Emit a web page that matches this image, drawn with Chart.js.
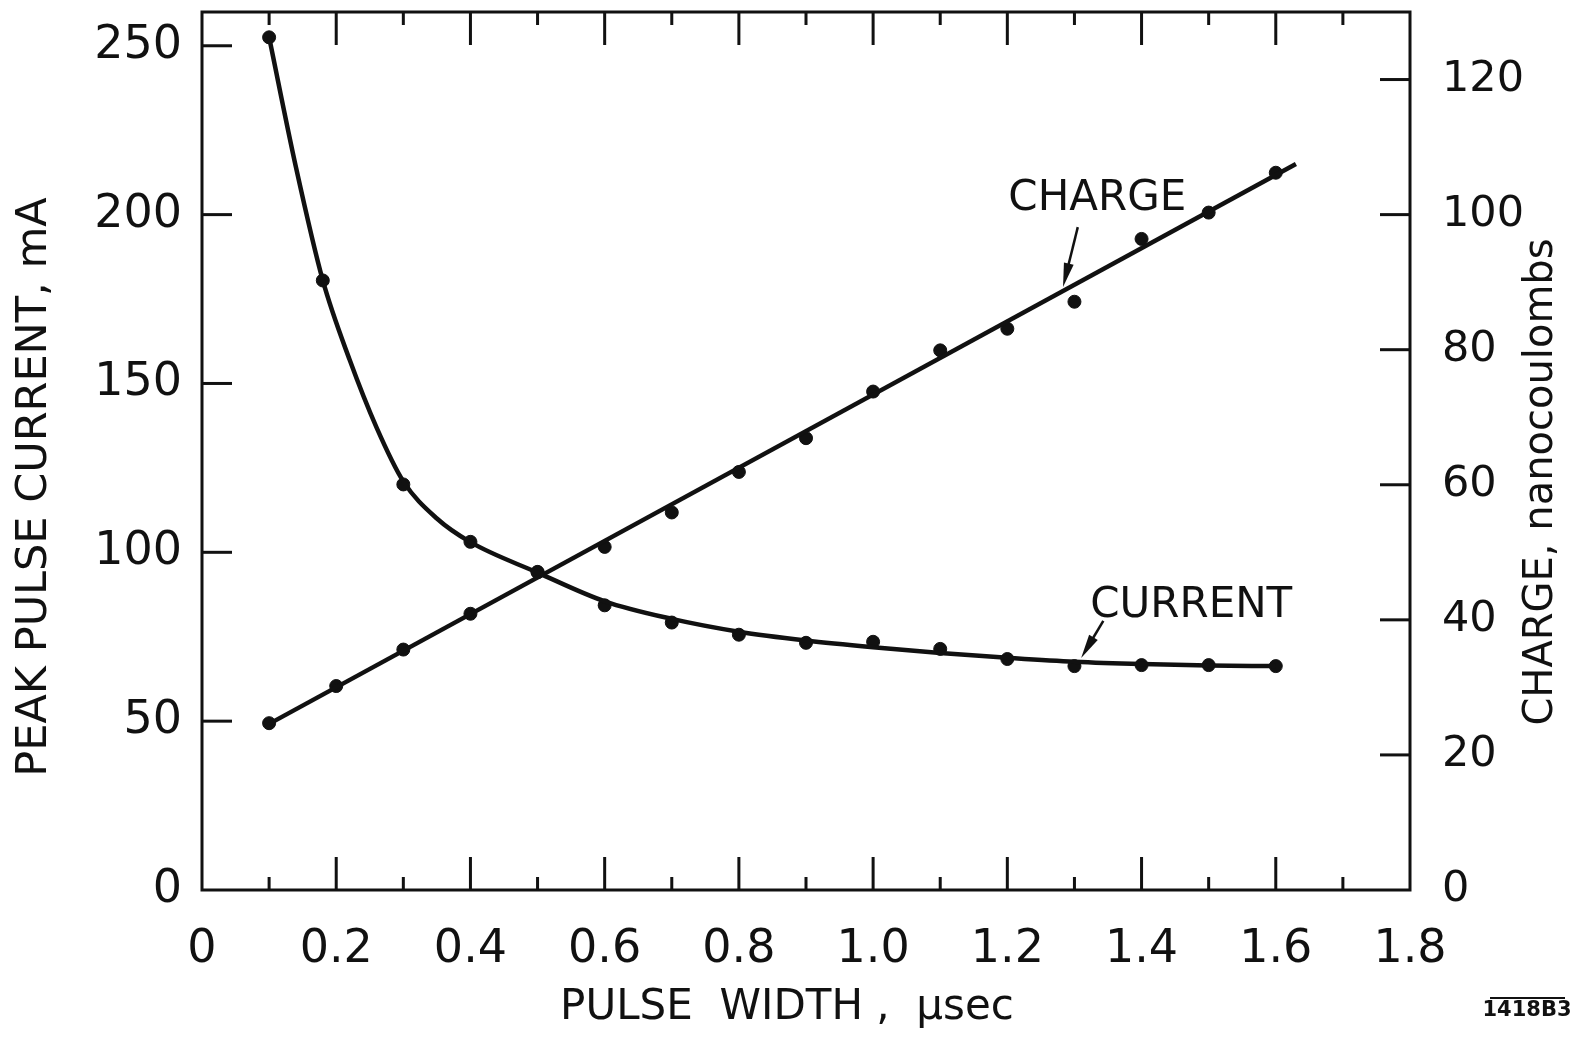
<!DOCTYPE html>
<html lang="en">
<head>
    <meta charset="UTF-8">
    <title>Peak pulse current and charge vs pulse width</title>
    <script src="https://cdn.jsdelivr.net/npm/chart.js"></script>
    <style>
        html, body { margin: 0; padding: 0; background: #fff; }
        canvas { display: block; }
    </style>
</head>
<body>
    <canvas id="pulseChart" width="1583" height="1037"></canvas>

    <script>
        let currentWidth = [0.1, 0.18, 0.3, 0.4, 0.5, 0.6, 0.7, 0.8, 0.9, 1.0, 1.1, 1.2, 1.3, 1.4, 1.5, 1.6];
        let currentValues = [252.5, 180.5, 120.1, 103.1, 94.1, 84.3, 79.2, 75.6, 73.2, 73.5, 71.4, 68.4, 66.3, 66.6, 66.6, 66.3];

        let chargeWidth = [0.1, 0.2, 0.3, 0.4, 0.5, 0.6, 0.7, 0.8, 0.9, 1.0, 1.1, 1.2, 1.3, 1.4, 1.5, 1.6];
        let chargeValues = [24.7, 30.2, 35.6, 40.9, 47.1, 50.8, 55.9, 61.9, 66.9, 73.8, 79.9, 83.1, 87.1, 96.4, 100.3, 106.2];

        // hand drawn fit curves
        let currentFitWidth = [0.1, 0.14, 0.18, 0.22, 0.26, 0.3, 0.35, 0.4, 0.5, 0.6, 0.7, 0.8, 0.9, 1.0, 1.1, 1.2, 1.3, 1.4, 1.5, 1.6];
        let currentFitValues = [252.5, 214, 180.5, 157, 137, 121, 110, 103, 94, 85.5, 80.3, 76.5, 73.9, 71.9, 70.2, 68.8, 67.6, 66.9, 66.5, 66.3];
        let chargeFitWidth = [0.1, 1.63];
        let chargeFitValues = [24.6, 107.5];

        // tick labels
        let xTicks = [0, 0.2, 0.4, 0.6, 0.8, 1.0, 1.2, 1.4, 1.6, 1.8];
        let xTickLabels = ["0", "0.2", "0.4", "0.6", "0.8", "1.0", "1.2", "1.4", "1.6", "1.8"];
        let currentTicks = [0, 50, 100, 150, 200, 250];
        let chargeTicks = [0, 20, 40, 60, 80, 100, 120];

        const INK = "#111";
        const FONT = "'DejaVu Sans', sans-serif";

        function toPoints(xs, ys) {
            return xs.map((x, i) => ({ x: x, y: ys[i] }));
        }

        // frame, inward ticks, titles and labels
        const paperPlugin = {
            id: "paper",
            beforeDraw(chart) {
                const ctx = chart.ctx;
                ctx.save();
                ctx.fillStyle = "#fff";
                ctx.fillRect(0, 0, chart.width, chart.height);
                ctx.restore();
            },
            afterDraw(chart) {
                const ctx = chart.ctx;
                const a = chart.chartArea;
                const sx = chart.scales.x, sy = chart.scales.y, sy2 = chart.scales.y2;
                ctx.save();
                ctx.strokeStyle = INK;
                ctx.fillStyle = INK;

                // frame
                ctx.lineWidth = 3;
                ctx.strokeRect(a.left, a.top, a.right - a.left, a.bottom - a.top);

                // x ticks, top and bottom, every 0.1
                for (let i = 1; i < 18; i++) {
                    const px = sx.getPixelForValue(i / 10);
                    const len = i % 2 === 0 ? 33 : 13;
                    ctx.beginPath();
                    ctx.moveTo(px, a.bottom);
                    ctx.lineTo(px, a.bottom - len);
                    ctx.moveTo(px, a.top);
                    ctx.lineTo(px, a.top + len);
                    ctx.stroke();
                }
                // left ticks
                currentTicks.forEach(v => {
                    if (v === 0) return;
                    const py = sy.getPixelForValue(v);
                    ctx.beginPath();
                    ctx.moveTo(a.left, py);
                    ctx.lineTo(a.left + 30, py);
                    ctx.stroke();
                });
                // right ticks
                chargeTicks.forEach(v => {
                    if (v === 0) return;
                    const py = sy2.getPixelForValue(v);
                    ctx.beginPath();
                    ctx.moveTo(a.right, py);
                    ctx.lineTo(a.right - 30, py);
                    ctx.stroke();
                });

                // axis titles
                ctx.textAlign = "center";
                ctx.textBaseline = "middle";
                ctx.font = "43px " + FONT;
                ctx.save();
                ctx.translate(35, 487);
                ctx.rotate(-Math.PI / 2);
                ctx.fillText("PEAK PULSE CURRENT, mA", 0, 0);
                ctx.restore();

                ctx.font = "40px " + FONT;
                ctx.save();
                ctx.translate(1542, 482);
                ctx.rotate(-Math.PI / 2);
                ctx.fillText("CHARGE, nanocoulombs", 0, 0);
                ctx.restore();

                ctx.font = "42px " + FONT;
                ctx.fillText("PULSE  WIDTH ,  \u00b5sec", 787, 1008);

                // curve labels with arrows, placed in data units
                ctx.font = "42px " + FONT;
                ctx.fillText("CHARGE", sx.getPixelForValue(1.334), sy.getPixelForValue(204.6));
                drawArrow(ctx, sx.getPixelForValue(1.305), sy.getPixelForValue(196.3),
                          sx.getPixelForValue(1.283), sy.getPixelForValue(178.6));
                ctx.fillText("CURRENT", sx.getPixelForValue(1.474), sy.getPixelForValue(84.1));
                drawArrow(ctx, sx.getPixelForValue(1.343), sy.getPixelForValue(79.7),
                          sx.getPixelForValue(1.310), sy.getPixelForValue(68.7));

                // drawing number
                ctx.font = "bold 21px " + FONT;
                ctx.fillText("1418B3", 1527, 1011);
                ctx.lineWidth = 2;
                ctx.beginPath();
                ctx.moveTo(1490, 998);
                ctx.lineTo(1565, 998);
                ctx.stroke();

                ctx.restore();
            }
        };

        function drawArrow(ctx, x1, y1, x2, y2) {
            const ang = Math.atan2(y2 - y1, x2 - x1);
            const head = 24, half = 5;
            ctx.lineWidth = 2.5;
            ctx.beginPath();
            ctx.moveTo(x1, y1);
            ctx.lineTo(x2 - Math.cos(ang) * head * 0.8, y2 - Math.sin(ang) * head * 0.8);
            ctx.stroke();
            ctx.beginPath();
            ctx.moveTo(x2, y2);
            ctx.lineTo(x2 - Math.cos(ang) * head - Math.sin(ang) * half,
                       y2 - Math.sin(ang) * head + Math.cos(ang) * half);
            ctx.lineTo(x2 - Math.cos(ang) * head + Math.sin(ang) * half,
                       y2 - Math.sin(ang) * head - Math.cos(ang) * half);
            ctx.closePath();
            ctx.fill();
        }

        const tickFont = { family: FONT, size: 46 };

        new Chart(document.getElementById("pulseChart"), {
            type: "scatter",
            data: {
                datasets: [
                    {
                        label: "Current fit",
                        data: toPoints(currentFitWidth, currentFitValues),
                        showLine: true,
                        cubicInterpolationMode: "monotone",
                        borderColor: INK,
                        borderWidth: 4.5,
                        pointRadius: 0,
                        yAxisID: "y"
                    },
                    {
                        label: "Charge fit",
                        data: toPoints(chargeFitWidth, chargeFitValues),
                        showLine: true,
                        borderColor: INK,
                        borderWidth: 4.5,
                        pointRadius: 0,
                        yAxisID: "y2"
                    },
                    {
                        label: "CURRENT",
                        data: toPoints(currentWidth, currentValues),
                        backgroundColor: INK,
                        borderColor: INK,
                        pointRadius: 6.5,
                        yAxisID: "y"
                    },
                    {
                        label: "CHARGE",
                        data: toPoints(chargeWidth, chargeValues),
                        backgroundColor: INK,
                        borderColor: INK,
                        pointRadius: 6.5,
                        yAxisID: "y2"
                    }
                ]
            },
            options: {
                responsive: false,
                animation: false,
                layout: { padding: { top: 12, left: 0, right: 0, bottom: 0 } },
                plugins: {
                    legend: { display: false },
                    tooltip: { enabled: false }
                },
                scales: {
                    x: {
                        type: "linear",
                        min: 0,
                        max: 1.8,
                        afterBuildTicks: s => { s.ticks = xTicks.map(v => ({ value: v })); },
                        afterFit: s => { s.height = 147; s.paddingLeft = 0; s.paddingRight = 0; },
                        ticks: {
                            callback: (v, i) => xTickLabels[i],
                            font: tickFont,
                            color: INK,
                            padding: 32,
                            maxRotation: 0
                        },
                        grid: { display: false, drawTicks: false },
                        border: { display: false }
                    },
                    y: {
                        position: "left",
                        min: 0,
                        max: 260,
                        afterBuildTicks: s => { s.ticks = currentTicks.map(v => ({ value: v })); },
                        afterFit: s => { s.width = 202; s.paddingTop = 0; s.paddingBottom = 0; },
                        ticks: { font: tickFont, color: INK, padding: 20 },
                        grid: { display: false, drawTicks: false },
                        border: { display: false }
                    },
                    y2: {
                        position: "right",
                        min: 0,
                        max: 130,
                        afterBuildTicks: s => { s.ticks = chargeTicks.map(v => ({ value: v })); },
                        afterFit: s => { s.width = 173; s.paddingTop = 0; s.paddingBottom = 0; },
                        ticks: { font: { family: FONT, size: 43 }, color: INK, padding: 32 },
                        grid: { display: false, drawTicks: false },
                        border: { display: false }
                    }
                }
            },
            plugins: [paperPlugin]
        });
    </script>
</body>
</html>
